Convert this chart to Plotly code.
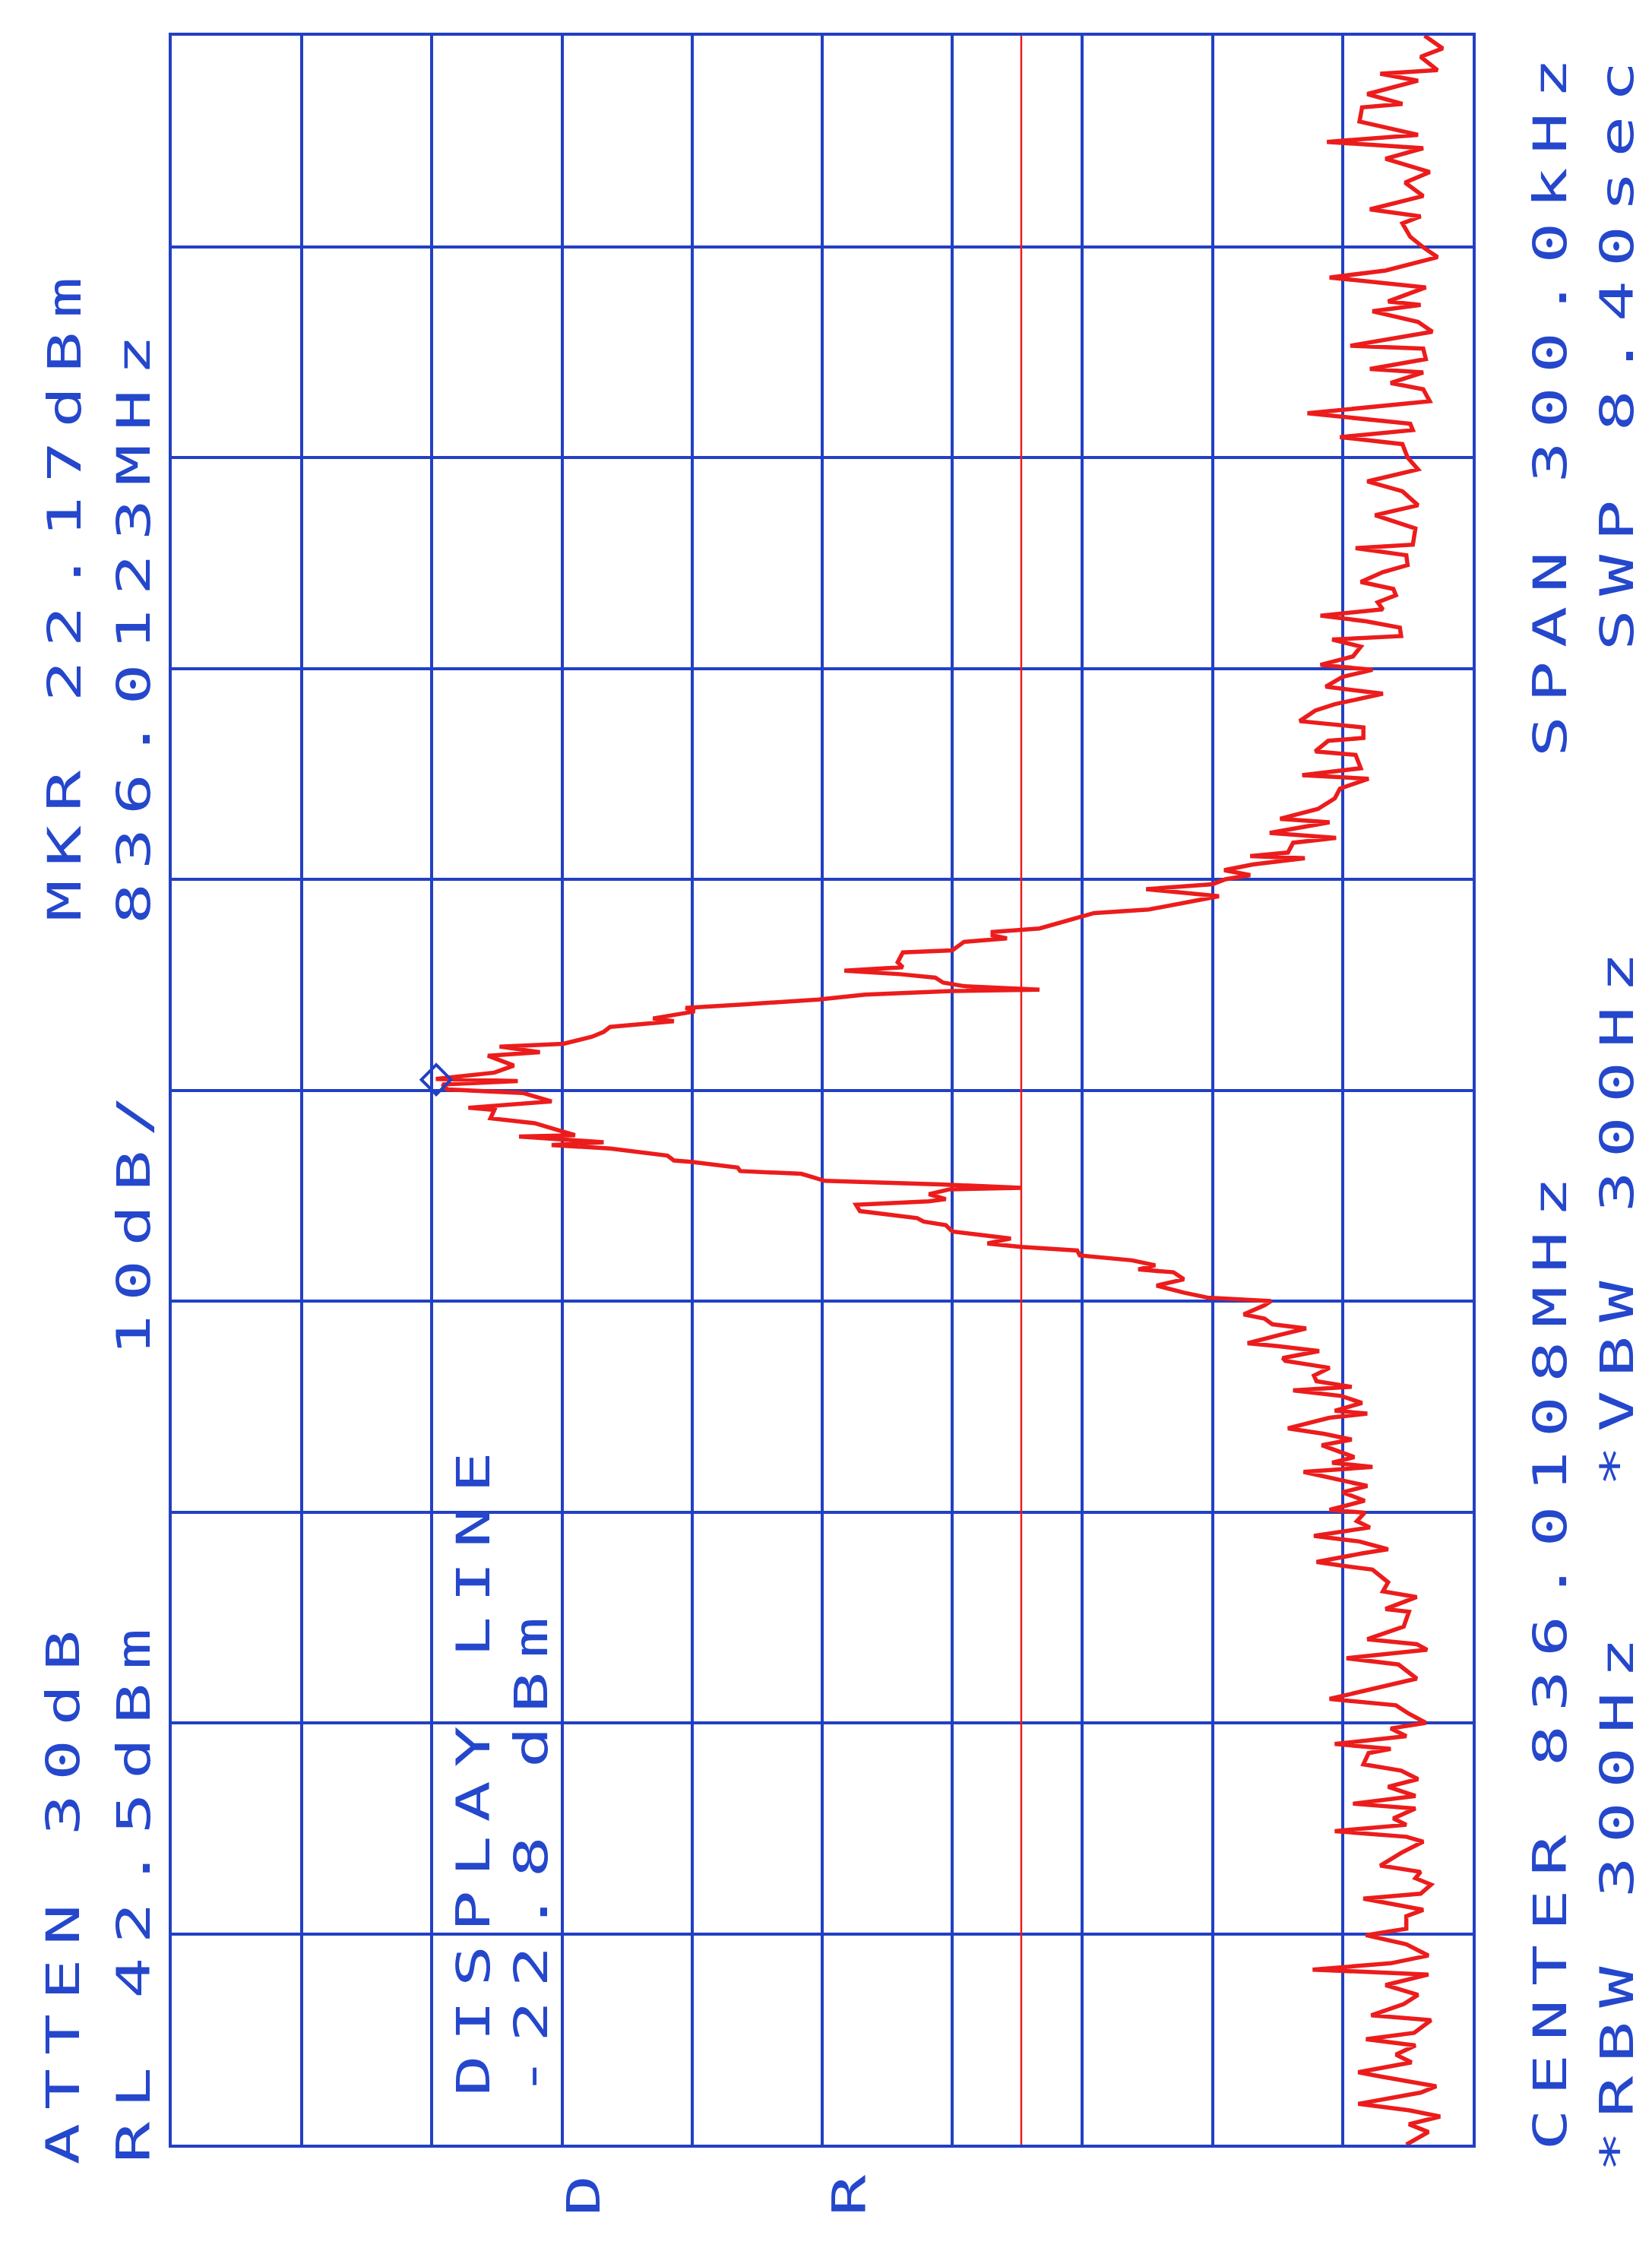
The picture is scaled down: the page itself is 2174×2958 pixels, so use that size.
import plotly.graph_objects as go

# Analyzer settings
REF_LEVEL_DBM = 42.5
DB_PER_DIV = 10
SPAN_KHZ = 300.0
DISPLAY_LINE_DBM = -22.8
MARKER_KHZ = 1.5          # 836.0123 MHz relative to centre 836.0108 MHz
MARKER_DBM = 22.17

# Trace: frequency offset from centre (kHz) and level (dBm), bottom to top of the sheet
freq_offset_khz = [
    -150.0, -149.3, -148.2, -147.1, -146.0, -145.1, -144.2, -142.6, -141.7, -140.3,
    -139.7, -138.3, -137.2, -135.9, -135.0, -134.1, -132.3, -131.6, -130.0, -128.7,
    -127.3, -125.8, -125.1, -124.2, -123.1, -121.5, -120.2, -119.3, -117.5, -116.6,
    -115.0, -114.3, -113.0, -112.1, -111.2, -110.3, -108.5, -106.9, -106.2, -105.4,
    -104.5, -103.6, -102.2, -101.5, -100.4, -99.1, -98.0, -96.8, -95.9, -94.3,
    -93.7, -93.0, -91.9, -90.8, -90.0,
    -88.7, -87.5, -86.6, -85.4, -83.7, -81.7, -80.8, -79.6, -78.8, -78.1,
    -76.3, -74.2, -73.8, -72.1, -71.3, -70.0, -68.8, -68.2, -67.6, -67.1,
    -65.9, -65.3, -64.2, -63.4, -62.2, -61.3, -60.1, -59.7, -58.4, -57.2,
    -56.3, -55.5, -54.3, -53.6, -53.0, -52.2, -50.5, -49.7, -48.9, -48.1,
    -46.6, -46.0, -45.6, -44.5, -43.5, -42.7, -42.2, -41.4, -40.6, -39.5,
    -38.5, -38.1, -37.1, -36.4, -36.0, -34.8, -33.9, -33.3, -32.5, -31.9,
    -30.6, -30.0,
    -29.5, -28.8, -27.8, -26.9, -25.9, -25.5, -24.9, -24.2, -23.5, -22.8,
    -22.5, -22.3, -21.8, -21.1, -20.6, -20.1, -19.2, -18.7, -18.2, -17.2,
    -16.3, -15.8, -15.5, -14.8, -14.1, -13.9, -13.4, -12.9, -12.4, -11.9,
    -11.5, -11.0, -10.2, -10.0, -9.3, -8.3, -7.8, -7.4, -6.6, -6.4,
    -5.7, -4.7, -4.0, -2.8, -2.5, -1.6, -0.4, 0.1, 0.8, 1.3,
    1.6, 2.5, 3.5, 4.9, 5.4, 6.2, 6.6, 7.6, 8.3, 9.0,
    9.8, 10.2, 11.2, 11.7, 12.2, 12.9, 13.6, 14.1, 14.3, 14.8,
    15.3, 16.0, 16.5, 17.0, 17.5, 18.2, 19.6, 19.9, 21.1, 21.6,
    22.0, 22.5, 23.0, 23.7, 25.2, 25.7, 27.4, 27.6, 28.6, 29.3,
    30.0,
    30.6, 31.3, 32.1, 33.0, 33.3, 33.8, 35.2, 35.9, 36.6, 38.1,
    38.6, 40.0, 41.5, 42.9, 44.3, 44.8, 45.8, 47.7, 48.2, 49.7,
    50.1, 51.6, 52.5, 54.0, 54.9, 56.4, 57.4, 58.8, 59.8, 60.5,
    61.7, 63.1, 64.1, 64.6, 65.8, 66.7, 67.5, 68.4, 69.4, 70.4,
    71.3, 72.3, 73.7, 74.7, 76.1, 77.1, 77.6,
    79.9, 81.8, 83.2, 85.2, 86.6, 88.3, 90.0, 91.9, 92.9, 93.9,
    94.8, 96.3, 98.0, 99.7, 100.6, 102.1, 102.6, 104.0, 105.5, 105.9,
    107.9, 109.3, 110.8, 111.7, 112.2, 114.2, 115.6, 116.6, 118.5, 119.9,
    121.4, 123.3, 124.3, 125.3, 127.2, 129.1, 130.6, 132.5, 134.0, 134.9,
    135.9, 137.8, 139.8, 140.3, 141.7, 143.6, 144.6, 145.1, 147.0, 148.2,
    150.0,
]

level_dbm = [
    -52.4, -53.1, -54.1, -52.6, -55.0, -52.6, -48.7, -53.5, -54.7, -50.4,
    -48.7, -52.8, -51.6, -53.1, -49.3, -53.0, -54.3, -49.7, -52.2, -53.3,
    -50.8, -54.1, -45.2, -51.2, -54.1, -52.4, -49.3, -52.4, -52.4, -53.7,
    -49.1, -53.5, -54.3, -53.1, -53.5, -50.4, -52.0, -53.7, -52.4, -46.9,
    -52.4, -51.4, -53.1, -48.3, -53.1, -51.0, -53.3, -52.0, -49.1, -49.5,
    -51.2, -46.9, -52.4, -51.2, -53.9,
    -52.6, -51.6, -46.5, -49.2, -53.2, -51.8, -47.8, -54.0, -53.2, -49.4,
    -52.2, -52.6, -50.8, -53.2, -50.6, -51.0, -50.2, -49.8, -47.3, -45.5,
    -49.0, -51.0, -48.8, -45.3, -49.6, -48.6, -49.2, -46.5, -49.2, -47.5,
    -49.4, -47.5, -44.5, -49.8, -46.7, -48.4, -45.9, -48.2, -46.1, -43.3,
    -46.5, -49.4, -46.9, -49.0, -47.4, -43.7, -48.2, -45.5, -45.3, -46.5,
    -43.1, -42.9, -45.7, -42.5, -40.2, -42.7, -44.7, -42.1, -41.5, -39.9,
    -41.5, -42.0,
    -37.1, -35.3, -33.2, -35.3, -34.5, -31.8, -33.1, -31.3, -27.3, -27.1,
    -24.1, -22.8, -20.2, -22.0, -19.7, -17.5, -17.0, -15.3, -14.8, -10.4,
    -10.1, -15.7, -17.0, -15.7, -17.3, -22.8, -16.6, -7.7, -6.8, -5.9,
    -1.2, -1.0, 2.6, 3.9, 4.4, 8.8, 13.3, 9.3, 15.8, 11.5,
    12.8, 14.6, 18.0, 17.7, 19.7, 13.3, 15.5, 21.3, 21.7, 15.9,
    22.2, 17.7, 16.2, 18.2, 14.2, 17.3, 12.4, 10.2, 9.3, 8.8,
    3.9, 5.5, 2.3, 3.0, -1.4, -7.2, -10.8, -17.5, -24.2, -18.4,
    -16.8, -16.2, -13.5, -9.2, -13.7, -13.3, -13.7, -17.5, -18.4, -21.7,
    -20.6, -20.6, -24.2, -25.5, -28.4, -32.6, -37.4, -38.0, -32.4, -37.5,
    -38.5,
    -40.4, -38.4, -40.6, -44.6, -40.4, -43.3, -43.7, -47.0, -41.9, -46.5,
    -42.7, -45.6, -46.9, -47.3, -49.5, -44.4, -48.9, -48.5, -45.4, -46.4,
    -49.1, -49.1, -44.2, -45.4, -46.9, -50.6, -46.2, -47.5, -49.8, -45.8,
    -48.3, -48.9, -46.7, -52.0, -51.9, -49.3, -45.8, -50.6, -50.2, -51.6,
    -51.4, -48.9, -50.6, -52.5, -52.4, -48.5, -52.9,
    -53.1, -50.0, -53.3, -52.1, -49.4, -53.3, -52.5, -52.1, -47.3, -52.9,
    -52.7, -44.8, -54.2, -53.7, -51.2, -53.7, -49.6, -53.9, -53.7, -48.1,
    -54.4, -53.3, -49.8, -53.5, -51.0, -53.9, -46.5, -50.8, -54.8, -53.7,
    -52.7, -52.1, -53.5, -49.6, -53.7, -52.3, -54.2, -50.8, -53.7, -46.3,
    -53.3, -48.8, -49.0, -52.1, -49.4, -53.3, -50.4, -54.8, -53.5, -55.2,
    -53.8,
]

# Annotation texts (plotter labels, rotated like the sheet)
labels = [
    "ATTEN 30dB", "RL 42.5dBm", "MKR 22.17dBm", "836.0123MHz", "10dB/",
    "DISPLAY LINE", "-22.8 dBm", "CENTER 836.0108MHz", "SPAN 300.0kHz",
    "*RBW 300Hz", "*VBW 300Hz", "SWP 8.40sec", "D", "R",
]
# label centres in pixels on the 2174x2958 sheet
label_px = [
    (75, 2480), (168, 2478), (77, 772), (168, 812), (168, 1596),
    (615, 2318), (691, 2427), (2032, 2172), (2032, 519),
    (2120, 2490), (2120, 1588), (2120, 452), (760, 2872), (1110, 2872),
]

W, H = 2174, 2958
L, R, T, B = 218, 244, 39, 144
BLUE = "#2240c4"
TEXT_BLUE = "#2447cc"
RED = "#ec1c1c"


def to_paper(px, py):
    return (px - L) / (W - L - R), 1 - (py - T) / (H - T - B)


fig = go.Figure()

fig.add_trace(go.Scatter(
    x=level_dbm, y=freq_offset_khz,
    mode="lines",
    line=dict(color=RED, width=5.5),
    hoverinfo="skip",
))

# marker diamond
fig.add_trace(go.Scatter(
    x=[MARKER_DBM], y=[MARKER_KHZ],
    mode="markers",
    marker=dict(symbol="diamond-open", size=30, color=BLUE, line=dict(color=BLUE, width=4)),
    hoverinfo="skip",
))

# display line
fig.add_vline(x=DISPLAY_LINE_DBM, line=dict(color=RED, width=2.5))

for text, (px, py) in zip(labels, label_px):
    ax, ay = to_paper(px, py)
    fig.add_annotation(
        x=ax, y=ay, xref="paper", yref="paper",
        text=text, showarrow=False, textangle=-90,
        xanchor="center", yanchor="middle",
        font=dict(family="DejaVu Sans Mono", size=60, color=TEXT_BLUE),
    )

bottom_db = REF_LEVEL_DBM - 10 * DB_PER_DIV
fig.update_layout(
    width=W, height=H,
    margin=dict(l=L, r=R, t=T, b=B),
    paper_bgcolor="white",
    plot_bgcolor="white",
    showlegend=False,
    xaxis=dict(
        range=[REF_LEVEL_DBM, bottom_db],
        tick0=bottom_db, dtick=DB_PER_DIV,
        showgrid=True, gridcolor=BLUE, gridwidth=3.5,
        showticklabels=False, ticks="", zeroline=False,
        showline=True, linecolor=BLUE, linewidth=3.5, mirror=True,
    ),
    yaxis=dict(
        range=[-SPAN_KHZ / 2, SPAN_KHZ / 2],
        tick0=-SPAN_KHZ / 2, dtick=SPAN_KHZ / 10,
        showgrid=True, gridcolor=BLUE, gridwidth=3.5,
        showticklabels=False, ticks="", zeroline=False,
        showline=True, linecolor=BLUE, linewidth=3.5, mirror=True,
    ),
)

# plotter font: wide glyphs on a wide fixed pitch
widen_js = """
document.querySelectorAll('.annotation-text').forEach(function (t) {
    t.style.letterSpacing = '12px';
    var b = t.getBBox();
    var cx = b.x + b.width / 2;
    var old = t.getAttribute('transform') || '';
    t.setAttribute('transform', old + ' translate(' + cx + ',0) scale(1.5,1) translate(' + (-cx) + ',0)');
});
"""

fig.write_html("out.html", post_script=widen_js)
